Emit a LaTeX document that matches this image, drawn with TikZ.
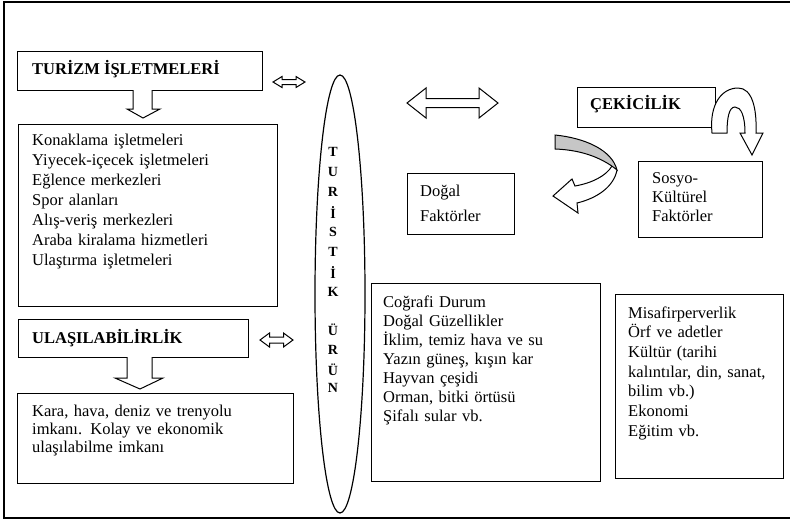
\documentclass[tikz,border=0pt]{standalone}
\usepackage{fontspec}
\setmainfont{Liberation Serif}
\usetikzlibrary{shapes.geometric}
\newcommand\fsz[1]{\fontsize{16.5}{#1}\selectfont}
\begin{document}
\begin{tikzpicture}[x=1pt,y=-1pt,
  box/.style={draw, line width=1.2pt, inner sep=0pt, anchor=north west},
  txt/.style={anchor=base west, inner sep=0pt, align=left, text width=#1},
  txt/.default=240pt,
  hd/.style={anchor=base west, inner sep=0pt, font=\fsz{20}\bfseries},
  blk/.style={draw, line width=1pt, fill=white, line join=miter},
  let/.style={inner sep=0pt, font=\fontsize{14}{14}\selectfont\bfseries},
]
\useasboundingbox (0,0) rectangle (790,523);
% frame
\draw[line width=1.8pt] (795,2) -- (4,2) -- (4,518) -- (795,518);

% left column
\node[box, minimum width=245pt, minimum height=39pt] (tiz) at (17,51) {};
\node[hd] (tizt) at (32,74) {TURİZM İŞLETMELERİ};
\node[box, minimum width=259pt, minimum height=182pt] (list) at (18,124) {};
\node[txt, font=\fsz{20}] (listt) at (32,145) {Konaklama işletmeleri\\Yiyecek-içecek işletmeleri\\Eğlence merkezleri\\Spor alanları\\Alış-veriş merkezleri\\Araba kiralama hizmetleri\\Ulaştırma işletmeleri};
\node[box, minimum width=230pt, minimum height=38pt] (ulas) at (18,319) {};
\node[hd] (ulast) at (32,343) {ULAŞILABİLİRLİK};
\node[box, minimum width=276pt, minimum height=90pt] (kara) at (17,393) {};
\node[txt, font=\fsz{18}] (karat) at (32,416) {Kara, hava, deniz ve trenyolu\\imkanı. Kolay ve ekonomik\\ulaşılabilme imkanı};

% hollow down arrows
\draw[blk] (133,90) -- (133,109) -- (127,109) -- (143,118) -- (160,109) -- (152,109) -- (152,90);
\draw[blk] (127,357) -- (127,378) -- (115,378) -- (140,389) -- (163,378) -- (152,378) -- (152,357);

% small double arrows
\begin{scope}[shift={(289,82)}]
\draw[blk] (-16,0) -- (-7,-5.5) -- (-7,-2.5) -- (7,-2.5) -- (7,-5.5) -- (16,0) -- (7,5.5) -- (7,2.5) -- (-7,2.5) -- (-7,5.5) -- cycle;
\end{scope}
\begin{scope}[shift={(276.5,340)}]
\draw[blk] (-16.5,0) -- (-7,-7) -- (-7,-3) -- (7,-3) -- (7,-7) -- (16.5,0) -- (7,7) -- (7,3) -- (-7,3) -- (-7,7) -- cycle;
\end{scope}

% ellipse
\node[draw, line width=1.2pt, ellipse, minimum width=50pt, minimum height=438pt, inner sep=0pt] (urun) at (340,294) {};
\foreach \l/\y [count=\i] in {T/152,U/172,R/192,İ/212,S/232,T/252,İ/272,K/292,Ü/330,R/350,Ü/370,N/388}
  \node[let] (L\i) at (333,\y) {\l};

% big double arrow
\begin{scope}[shift={(452.5,103)}]
\draw[blk] (-45.5,0) -- (-26.5,-15) -- (-26.5,-4.5) -- (26.5,-4.5) -- (26.5,-15) -- (45.5,0) -- (26.5,15) -- (26.5,4.5) -- (-26.5,4.5) -- (-26.5,15) -- cycle;
\end{scope}

% right part
\node[box, minimum width=138pt, minimum height=40pt] (cek) at (577,87) {};
\node[hd] (cekt) at (590,109) {ÇEKİCİLİK};
\draw[blk] (712,133) .. controls (709,104) and (722,88) .. (738,88) .. controls (752,88) and (757,108) .. (756,133) -- (763,133) -- (752,155) -- (740,133) -- (745,133) .. controls (745,116) and (741,107) .. (735,107) .. controls (729,107) and (727,118) .. (727,133) -- cycle;

\node[box, minimum width=107pt, minimum height=61pt] (dogal) at (407,173) {};
\node[txt=100pt, font=\fsz{25}] (dogalt) at (420,196) {Doğal\\Faktörler};
\node[box, minimum width=124pt, minimum height=76pt] (sosyo) at (638,161) {};
\node[txt=110pt, font=\fsz{19}] (sosyot) at (652,183) {Sosyo-\\Kültürel\\Faktörler};

% ribbon arrow
\draw[blk] (617,170) .. controls (614,186) and (598,198) .. (577,203) -- (578,213) -- (553,196) -- (572,179) -- (575,186) .. controls (592,183) and (606,176) .. (612,166);
\draw[blk, fill=gray!45] (555,135) .. controls (585,138) and (612,150) .. (617,170) .. controls (605,160) and (585,150) .. (555,149) -- cycle;

\node[box, minimum width=229pt, minimum height=198pt] (cog) at (371,283) {};
\node[txt=220pt, font=\fsz{19}] (cogt) at (383,307) {Coğrafi Durum\\Doğal Güzellikler\\İklim, temiz hava ve su\\Yazın güneş, kışın kar\\Hayvan çeşidi\\Orman, bitki örtüsü\\Şifalı sular vb.};
\node[box, minimum width=168pt, minimum height=184pt] (misa) at (615,294) {};
\node[txt=160pt, font=\fsz{19.7}] (misat) at (628,318) {Misafirperverlik\\Örf ve adetler\\Kültür (tarihi\\kalıntılar, din, sanat,\\bilim vb.)\\Ekonomi\\Eğitim vb.};
\end{tikzpicture}
\end{document}
